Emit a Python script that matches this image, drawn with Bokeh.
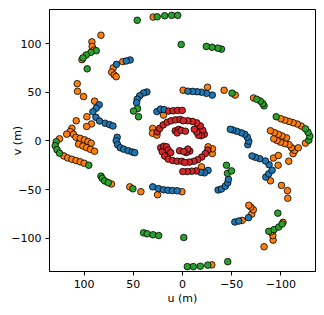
from bokeh.plotting import figure
from bokeh.models import Range1d, FixedTicker
from bokeh.embed import file_html
from bokeh.resources import INLINE

# uv samples (metres) read from the half plane; conjugate points (-u, -v) complete the coverage
red_u = [14.0, 9.5, 4.9, 0.3, 25.7, 23.2, 19.6, 15.5, 11.5, 6.9, 2.3, 7.4, 3.9, 5.4, 1.3,
         22.2, 20.6, 18.1, 14.5, 10.0, 5.4, 0.8, 3.0, 19.1, 16.3, 14.5, 12.0]
red_v = [30.7, 31.0, 31.4, 31.4, 9.3, 12.9, 16.5, 19.2, 20.8, 21.7, 22.1, 10.4, 11.9, 8.3, 10.9,
         -6.9, -11.0, -15.5, -18.6, -20.1, -20.8, -20.8, -10.0, -5.4, -5.9, -9.2, -12.0]

blue_u = [53.2, 57.2, 67.1, 36.2, 39.6, 43.5, 46.0, 46.7, 84.7, 87.7, 91.1, 88.0, 84.3, 78.6,
          74.2, 70.7, 26.0, 22.4, 18.6, 66.4, 67.4, 65.9, 63.3, 59.8, 55.2, 51.1, 48.6, 30.3,
          24.4, 19.3, 14.8, 10.2, 5.4]
blue_v = [83.2, 82.2, 78.7, 50.3, 49.3, 46.4, 42.9, 39.3, 37.1, 33.7, 30.0, 24.3, 20.5, 18.2,
          16.8, 15.4, 30.2, 32.7, 32.2, 3.8, 0.2, -3.9, -6.9, -8.4, -10.0, -11.3, -12.0, -47.1,
          -48.9, -50.1, -50.6, -50.9, -51.1]

orange_u = [29.8, 82.9, 92.1, 91.8, 89.7, 102.2, 107.0, 106.7, 100.6, 60.7, 70.4, 72.0, 69.4,
            67.4, 89.4, 97.2, 108.0, 92.5, 97.4, 112.4, 114.1, 110.8, 117.7, 125.0, 108.3, 104.0,
            99.6, 96.1, 92.8, 105.7, 101.2, 97.4, 93.5, 89.4, 120.7, 116.7, 112.4, 108.2, 104.0,
            99.9, 72.2, 53.6, 42.3, 25.4, 0.6, 30.3, 30.5, 26.0, 19.3]
orange_v = [127.2, 108.6, 101.8, 97.1, 93.4, 83.5, 58.8, 51.0, 45.6, 81.5, 75.1, 70.6, 67.8,
            66.0, 40.9, 24.9, 20.8, 17.5, 14.9, 13.1, 9.7, 6.8, 7.0, 2.2, 3.8, 2.7,
            1.2, -0.5, -2.3, -3.2, -5.2, -6.9, -8.6, -10.5, -15.3, -17.4, -18.8, -20.1, -21.4,
            -22.9, -44.2, -47.1, -52.1, -55.2, -52.1, 12.9, 8.0, 6.0, 26.6]

green_u = [46.0, 25.7, 18.1, 11.0, 4.9, 1.3, 87.7, 93.1, 97.9, 101.2, 96.9, 45.7, 49.8, 44.7,
           128.4, 129.4, 127.6, 125.0, 95.3, 82.9, 81.6, 79.1, 75.5, 50.4, 39.6, 35.9, 30.0, 24.2]
green_v = [123.9, 127.5, 128.6, 129.0, 129.0, 99.1, 92.7, 91.0, 88.3, 85.3, 74.1, 33.2, 30.7, 24.9,
           -0.8, -4.9, -8.9, -12.5, -24.9, -36.1, -38.4, -41.0, -42.8, -49.1, -94.3, -95.3, -96.3, -97.1]

tick_values = [-100, -50, 0, 50, 100]
tick_labels = {-100: "\u2212100", -50: "\u221250", 0: "0", 50: "50", 100: "100"}

groups = [
    (orange_u, orange_v, "#ff7f0e"),
    (blue_u, blue_v, "#1f77b4"),
    (green_u, green_v, "#2ca02c"),
    (red_u, red_v, "#d62728"),
]


def with_conjugates(us, vs):
    return us + [-x for x in us], vs + [-y for y in vs]


p = figure(width=316, height=307, output_backend="svg", toolbar_location=None,
           x_range=Range1d(135.2, -135.2), y_range=Range1d(-134.0, 135.0),
           min_border_left=49, min_border_right=1, min_border_top=9, min_border_bottom=34)

for us, vs, col in groups:
    uu, vv = with_conjugates(us, vs)
    p.scatter(uu, vv, size=6.6, fill_color=col, line_color="black", line_width=0.8)

p.grid.visible = False
p.outline_line_color = "black"
p.outline_line_width = 1
p.background_fill_color = "white"
p.border_fill_color = "white"

for ax in (p.xaxis[0], p.yaxis[0]):
    ax.ticker = FixedTicker(ticks=tick_values)
    ax.major_label_overrides = tick_labels
    ax.minor_tick_line_color = None
    ax.major_tick_in = 0
    ax.major_tick_out = 4
    ax.major_tick_line_color = "black"
    ax.axis_line_color = "black"
    ax.major_label_text_font = "DejaVu Sans"
    ax.major_label_text_font_size = "11px"
    ax.major_label_text_color = "black"
    ax.major_label_standoff = 4
    ax.axis_label_text_font = "DejaVu Sans"
    ax.axis_label_text_font_size = "11px"
    ax.axis_label_text_font_style = "normal"
    ax.axis_label_text_color = "black"

p.xaxis.axis_label = "u (m)"
p.yaxis.axis_label = "v (m)"
p.xaxis.axis_label_standoff = 1
p.yaxis.axis_label_standoff = -16

open("out.html", "w").write(file_html(p, INLINE))
